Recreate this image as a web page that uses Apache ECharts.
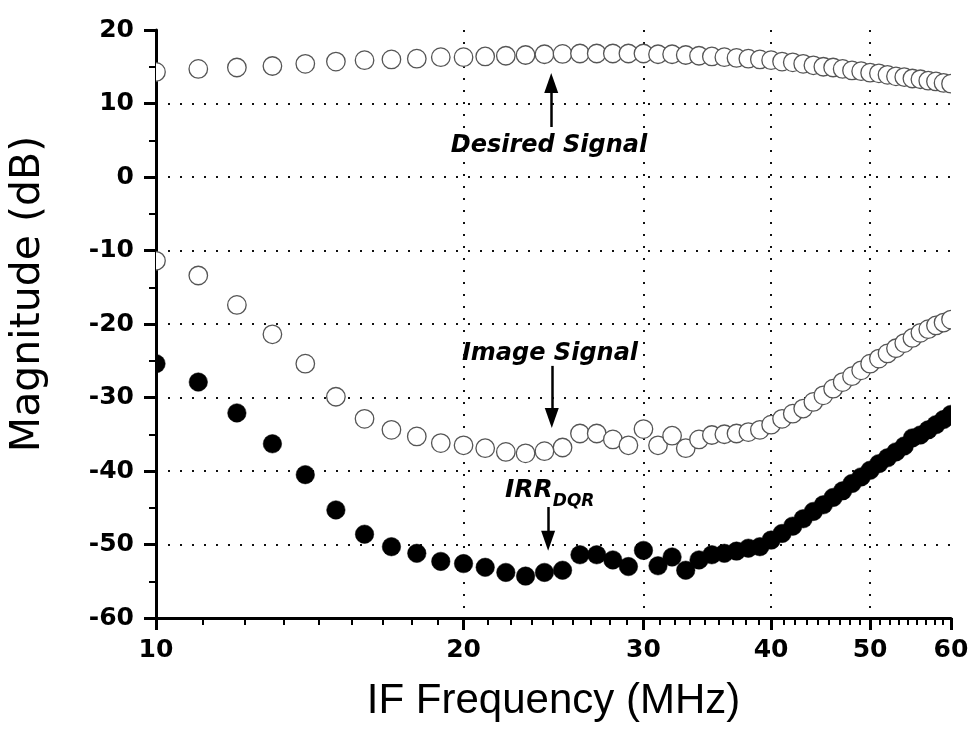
<!DOCTYPE html>
<html>
<head>
<meta charset="utf-8">
<script src="https://cdn.jsdelivr.net/npm/echarts@6/dist/echarts.min.js"></script>
<style>
html,body{margin:0;padding:0;background:#fff;}
#chart{width:974px;height:733px;}
</style>
</head>
<body>
<div id="chart"></div>
<script>
// IF frequency (MHz)
var freqs = [10,11,12,13,14,15,16,17,18,19,20,21,22,23,24,25,26,27,28,29,30,31,32,33,34,35,36,37,38,39,40,41,42,43,44,45,46,47,48,49,50,51,52,53,54,55,56,57,58,59,60];
// Desired signal (dB)
var desired = [14.3,14.7,14.9,15.1,15.4,15.7,15.9,16.0,16.1,16.3,
               16.3,16.4,16.5,16.6,16.7,16.75,16.8,16.8,16.8,16.8,
               16.8,16.7,16.7,16.6,16.5,16.4,16.3,16.2,16.1,16.0,
               15.9,15.7,15.6,15.4,15.2,15.0,14.9,14.7,14.5,14.4,
               14.2,14.1,13.9,13.7,13.6,13.4,13.3,13.1,13.0,12.8,12.7];
// Image signal (dB)
var image = [-11.4,-13.4,-17.4,-21.4,-25.4,-29.9,-32.9,-34.4,-35.3,-36.2,
             -36.5,-36.9,-37.4,-37.6,-37.3,-36.8,-34.9,-34.9,-35.7,-36.5,
             -34.3,-36.5,-35.2,-36.9,-35.7,-35.1,-35.0,-34.9,-34.7,-34.4,
             -33.7,-32.9,-32.2,-31.5,-30.6,-29.7,-28.8,-27.9,-27.1,-26.3,
             -25.4,-24.7,-24.0,-23.3,-22.6,-21.9,-21.2,-20.7,-20.2,-19.8,-19.4];
// IRR_DQR (dB)
var irr = [-25.4,-27.9,-32.1,-36.3,-40.5,-45.3,-48.6,-50.3,-51.2,-52.3,
           -52.6,-53.1,-53.8,-54.3,-53.8,-53.5,-51.4,-51.4,-52.1,-53.0,
           -50.8,-52.9,-51.7,-53.5,-52.1,-51.4,-51.2,-50.9,-50.5,-50.3,
           -49.4,-48.5,-47.5,-46.5,-45.5,-44.6,-43.6,-42.7,-41.7,-40.8,
           -39.9,-39.0,-38.2,-37.4,-36.6,-35.5,-35.1,-34.4,-33.7,-33.0,-32.3];

var xTicks = [10,20,30,40,50,60];
var minorPerMajor = 8;
var xMinorTicks = [];
for (var i = 0; i < xTicks.length - 1; i++) {
  for (var k = 1; k <= minorPerMajor; k++) {
    xMinorTicks.push(xTicks[i] + (xTicks[i+1] - xTicks[i]) * k / (minorPerMajor + 1));
  }
}
var yMin = -60, yMax = 20, yStep = 10;

// annotation arrows [x, yTail, yHead]
var arrows = [[24.37, 6.8, 12.8], [24.4, -25.7, -32.8], [24.2, -44.9, -49.5]];

function zip(xs, ys) { return xs.map(function (x, i) { return [x, ys[i]]; }); }

var R = 9.25;
function circleItem(fill, stroke, lw) {
  return function (params, api) {
    var p = api.coord([api.value(0), api.value(1)]);
    var cs = params.coordSys;
    return {type: 'circle', shape: {cx: p[0], cy: p[1], r: R},
            style: {fill: fill, stroke: stroke, lineWidth: lw},
            clipPath: {type: 'rect', shape: {x: cs.x, y: cs.y, width: cs.width, height: cs.height}}};
  };
}

var chart = echarts.init(document.getElementById('chart'), null, {renderer: 'canvas'});
var dotted = {type: [2, 10], width: 2, color: '#111'};
var tickFont = {fontFamily: 'DejaVu Sans', fontWeight: 'bold', fontSize: 25, color: '#000'};
var option = {
  backgroundColor: '#fff',
  animation: false,
  grid: {left: 152, right: 23, top: 30, bottom: 115, containLabel: false},
  xAxis: [{
    type: 'log', logBase: 10, min: 10, max: 60,
    name: 'IF Frequency (MHz)', nameLocation: 'middle', nameGap: 62,
    nameTextStyle: {fontFamily: 'Liberation Sans', fontSize: 42, color: '#000'},
    axisLine: {show: true, onZero: false, lineStyle: {color: '#000', width: 3}},
    axisTick: {show: true, customValues: xTicks, length: 12, lineStyle: {color: '#000', width: 3}},
    axisLabel: Object.assign({customValues: xTicks, margin: 20}, tickFont),
    splitLine: {show: true, showMinLine: false, showMaxLine: false, lineStyle: dotted},
    minorTick: {show: false}
  }, {
    type: 'log', logBase: 10, min: 10, max: 60, position: 'bottom', offset: 0,
    axisLine: {show: false, onZero: false},
    axisTick: {show: true, customValues: xMinorTicks, length: 7, lineStyle: {color: '#000', width: 2}},
    axisLabel: {show: false},
    splitLine: {show: false}
  }],
  yAxis: {
    type: 'value', min: yMin, max: yMax, interval: yStep,
    name: 'Magnitude (dB)', nameLocation: 'middle', nameGap: 107, nameRotate: 90,
    nameTextStyle: {fontFamily: 'DejaVu Sans', fontSize: 41, color: '#000', padding: [0, 0, 0, 60]},
    axisLine: {show: true, onZero: false, lineStyle: {color: '#000', width: 3}},
    axisTick: {show: true, length: 12, lineStyle: {color: '#000', width: 3}},
    minorTick: {show: true, splitNumber: 2, length: 7, lineStyle: {color: '#000', width: 2}},
    axisLabel: Object.assign({margin: 22}, tickFont),
    splitLine: {show: true, showMinLine: false, showMaxLine: false, lineStyle: dotted}
  },
  series: [{
    name: 'Desired Signal', type: 'custom',
    renderItem: circleItem('#fff', '#555', 1.3),
    encode: {x: 0, y: 1},
    data: zip(freqs, desired)
  }, {
    name: 'Image Signal', type: 'custom',
    renderItem: circleItem('#fff', '#555', 1.3),
    encode: {x: 0, y: 1},
    data: zip(freqs, image)
  }, {
    name: 'IRR', type: 'custom',
    renderItem: circleItem('#000', '#000', 0.5),
    encode: {x: 0, y: 1},
    data: zip(freqs, irr)
  }, {
    name: 'annotations', type: 'scatter', data: [], silent: true,
    markLine: {
      silent: true, symbol: ['none', 'triangle'], symbolSize: [14, 20],
      label: {show: false},
      lineStyle: {color: '#000', width: 2.5, type: 'solid'},
      data: arrows.map(function (a) { return [{coord: [a[0], a[1]]}, {coord: [a[0], a[2]]}]; })
    }
  }],
  graphic: [
    {type: 'text', x: 549, y: 146, style: {text: 'Desired Signal', fill: '#000', font: 'italic bold 24px "DejaVu Sans"', align: 'center', verticalAlign: 'middle'}},
    {type: 'text', x: 550, y: 354, style: {text: 'Image Signal', fill: '#000', font: 'italic bold 24px "DejaVu Sans"', align: 'center', verticalAlign: 'middle'}},
    {type: 'text', x: 505, y: 478, style: {
      text: '{a|IRR}{b|DQR}', fill: '#000', align: 'left', verticalAlign: 'top',
      rich: {
        a: {fontFamily: 'DejaVu Sans', fontStyle: 'italic', fontWeight: 'bold', fontSize: 25, lineHeight: 25},
        b: {fontFamily: 'DejaVu Sans', fontStyle: 'italic', fontWeight: 'bold', fontSize: 17, lineHeight: 17, padding: [22, 0, 0, 0]}
      }
    }}
  ]
};
chart.setOption(option);
</script>
</body>
</html>
